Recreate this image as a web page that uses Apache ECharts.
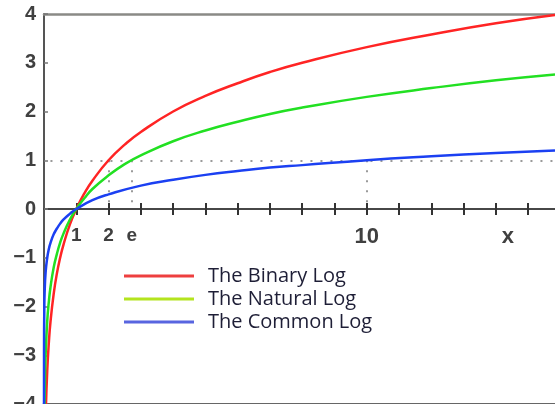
<!DOCTYPE html>
<html>
<head>
<meta charset="utf-8">
<script src="https://cdn.jsdelivr.net/npm/echarts@6/dist/echarts.min.js"></script>
<style>
html,body{margin:0;padding:0;background:#fff;}
#chart{width:555px;height:404px;}
</style>
</head>
<body>
<div id="chart"></div>
<script>
// Series names
const seriesNames = ['The Binary Log', 'The Natural Log', 'The Common Log'];

// Points: [x, y]
const binaryLog = [
  [0.0625, -4], [0.1, -3.32], [0.15, -2.74], [0.2, -2.32], [0.3, -1.74], [0.4, -1.32],
  [0.5, -1], [0.6, -0.74], [0.8, -0.32], [1, 0], [1.25, 0.32], [1.5, 0.58], [2, 1],
  [2.5, 1.32], [3, 1.58], [4, 2], [5, 2.32], [6, 2.58], [7, 2.81], [8, 3], [10, 3.32],
  [12, 3.58], [14, 3.81], [15.83, 3.98]
];
const naturalLog = [
  [0.0183, -4], [0.03, -3.51], [0.05, -3.0], [0.1, -2.3], [0.15, -1.9], [0.2, -1.61],
  [0.3, -1.2], [0.4, -0.92], [0.5, -0.69], [0.6, -0.51], [0.8, -0.22], [1, 0],
  [1.25, 0.22], [1.5, 0.41], [2, 0.69], [2.5, 0.92], [3, 1.1], [4, 1.39], [5, 1.61],
  [6, 1.79], [7, 1.95], [8, 2.08], [10, 2.3], [12, 2.48], [14, 2.64], [15.83, 2.76]
];
const commonLog = [
  [0.0001, -4], [0.001, -3], [0.01, -2], [0.02, -1.7], [0.05, -1.3], [0.1, -1],
  [0.15, -0.82], [0.2, -0.7], [0.3, -0.52], [0.4, -0.4], [0.5, -0.3], [0.6, -0.22],
  [0.8, -0.1], [1, 0], [1.5, 0.18], [2, 0.3], [3, 0.48], [4, 0.6], [5, 0.7],
  [6, 0.78], [7, 0.85], [8, 0.9], [10, 1], [12, 1.08], [14, 1.15], [15.83, 1.2]
];

// Axis ticks / labels
const xMin = 0, xMax = 15.83;
const yMin = -4, yMax = 4;
const xTickValues = [1, 2, 3, 4, 5, 6, 7, 8, 9, 10, 11, 12, 13, 14, 15];
const xLabelValues = [1, 2, 2.718, 10, 14.37];
const xLabelTexts = ['1', '2', 'e', '10', 'x'];
const xLabelBig = [false, false, false, true, true];

// Guide (dotted) lines where each log equals 1
const guideY = 1;
const guideXs = [2, 2.718, 10];
const guideStartX = 0.2;

const lineColors = ['#ff2424', '#22e022', '#1b40f2'];
const legendColors = ['#ee3f3f', '#b4e41e', '#5865e0'];

const chart = echarts.init(document.getElementById('chart'), null, {renderer: 'canvas'});

const labelFont = {fontFamily: 'Liberation Sans', fontSize: 20, fontWeight: 'bold', color: '#404040'};

const guideData = [
  [{coord: [guideStartX, guideY]}, {coord: [xMax, guideY]}]
].concat(guideXs.map(x => [{coord: [x, guideY]}, {coord: [x, 0]}]));

const GRID_TOP = 14, GRID_BOTTOM = 0, GRID_H = 404 - GRID_TOP - GRID_BOTTOM;
// distance from grid edges to the y = 0 line
const zeroFromBottom = GRID_H * (0 - yMin) / (yMax - yMin);
const zeroFromTop = GRID_H - zeroFromBottom;

const baseX = {type: 'value', min: xMin, max: xMax, splitLine: {show: false}};

const option = {
  backgroundColor: '#fff',
  animation: false,
  grid: {left: 44, right: 0, top: GRID_TOP, bottom: GRID_BOTTOM, containLabel: false, outerBoundsMode: 'none'},
  legend: {
    orient: 'vertical',
    left: 124,
    top: 266,
    padding: 0,
    itemWidth: 70,
    itemHeight: 3,
    itemGap: 3,
    icon: 'rect',
    textStyle: {fontFamily: 'Open Sans', fontSize: 20, color: '#1e1e36', padding: [0, 0, 0, 9]},
    data: seriesNames.map((n, i) => ({name: n, itemStyle: {color: legendColors[i]}}))
  },
  xAxis: [
    Object.assign({}, baseX, {
      position: 'bottom',
      offset: -zeroFromBottom,
      axisLine: {show: true, onZero: false, lineStyle: {color: '#474747', width: 2}},
      axisTick: {show: true, inside: false, length: 6, customValues: xTickValues, lineStyle: {color: '#333', width: 2}},
      axisLabel: Object.assign({}, labelFont, {
        margin: 17,
        customValues: xLabelValues,
        formatter: function (v) {
          const i = xLabelValues.findIndex(t => Math.abs(t - v) < 1e-6);
          if (i < 0) return '';
          return xLabelBig[i] ? '{big|' + xLabelTexts[i] + '}' : '{sm|' + xLabelTexts[i] + '}';
        },
        rich: {
          sm: {fontFamily: 'Liberation Sans', fontSize: 19, fontWeight: 'bold', color: '#404040'},
          big: {fontFamily: 'Liberation Sans', fontSize: 22, fontWeight: 'bold', color: '#404040'}
        }
      })
    }),
    Object.assign({}, baseX, {
      position: 'top',
      offset: -zeroFromTop,
      axisLine: {show: true, onZero: false, lineStyle: {color: '#474747', width: 2}},
      axisTick: {show: true, inside: false, length: 6, customValues: xTickValues, lineStyle: {color: '#333', width: 2}},
      axisLabel: {show: false}
    }),
    Object.assign({}, baseX, {
      position: 'top',
      axisLine: {show: true, onZero: false, lineStyle: {color: '#8a8a86', width: 2.5}},
      axisTick: {show: false},
      axisLabel: {show: false}
    }),
    Object.assign({}, baseX, {
      position: 'bottom',
      axisLine: {show: true, onZero: false, lineStyle: {color: '#666', width: 3}},
      axisTick: {show: false},
      axisLabel: {show: false}
    })
  ],
  yAxis: {
    type: 'value',
    min: yMin,
    max: yMax,
    interval: 1,
    splitLine: {show: false},
    axisLine: {show: true, onZero: false, lineStyle: {color: '#555', width: 2}},
    axisTick: {show: true, inside: true, length: 4, lineStyle: {color: '#777', width: 1.5}},
    axisLabel: Object.assign({}, labelFont, {
      margin: 8,
      padding: [3, 0, 0, 0],
      formatter: v => String(v).replace('-', '\u2212')
    })
  },
  series: [
    {
      name: seriesNames[0], type: 'line', data: binaryLog, xAxisIndex: 0,
      showSymbol: false, smooth: true,
      lineStyle: {color: lineColors[0], width: 2.5}, itemStyle: {color: lineColors[0]}, z: 3
    },
    {
      name: seriesNames[1], type: 'line', data: naturalLog, xAxisIndex: 0,
      showSymbol: false, smooth: true,
      lineStyle: {color: lineColors[1], width: 2.5}, itemStyle: {color: lineColors[1]}, z: 3
    },
    {
      name: seriesNames[2], type: 'line', data: commonLog, xAxisIndex: 0,
      showSymbol: false, smooth: true,
      lineStyle: {color: lineColors[2], width: 2.5}, itemStyle: {color: lineColors[2]}, z: 3,
      markLine: {
        silent: true,
        symbol: ['none', 'none'],
        label: {show: false},
        lineStyle: {color: '#9a9a9a', type: [2, 8], width: 2},
        z: 1,
        data: guideData
      }
    }
  ]
};
chart.setOption(option);
</script>
</body>
</html>
